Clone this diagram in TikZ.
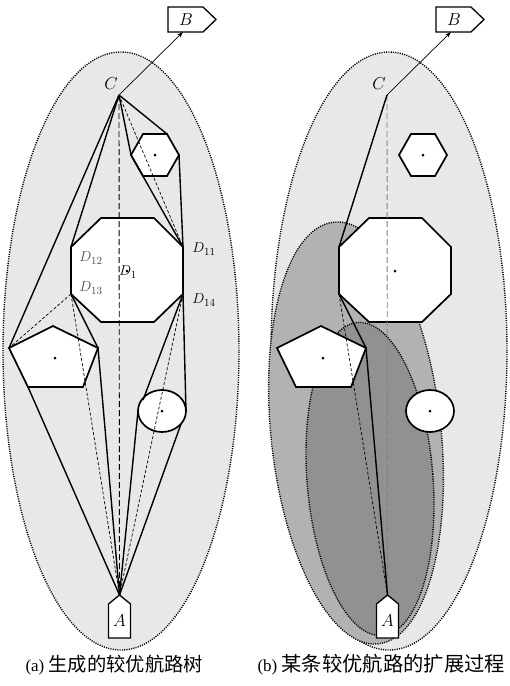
\documentclass[tikz,border=0pt]{standalone}
\usepackage{fontspec}
\setmainfont{Liberation Serif}
\newfontfamily\cjk{Noto Sans CJK SC}
\usetikzlibrary{arrows.meta}
\definecolor{bgfill}{RGB}{232,232,232}
\definecolor{midfill}{RGB}{178,178,178}
\definecolor{darkfill}{RGB}{145,145,145}
\newcommand{\defpts}[1]{%
  \coordinate (#1C) at (119,95);
  \coordinate (#1Bt) at (183,32);
  \coordinate (#1h0) at (155,155);
  \coordinate (#1hTL) at (143,134);
  \coordinate (#1hTR) at (167,134);
  \coordinate (#1hR) at (179,155);
  \coordinate (#1hBR) at (167,176);
  \coordinate (#1hBL) at (143,176);
  \coordinate (#1hL) at (131,155);
  \coordinate (#1o0) at (127,271);
  \coordinate (#1oTL) at (101,218);
  \coordinate (#1oTR) at (154,218);
  \coordinate (#1D11) at (183,247);
  \coordinate (#1D14) at (183,294);
  \coordinate (#1oBR) at (154,322);
  \coordinate (#1oBL) at (101,322);
  \coordinate (#1D13) at (71,294);
  \coordinate (#1D12) at (71,247);
  \coordinate (#1p0) at (55,358);
  \coordinate (#1pT) at (53,326);
  \coordinate (#1pTR) at (98,348);
  \coordinate (#1pBR) at (83,387);
  \coordinate (#1pBL) at (28,387);
  \coordinate (#1pL) at (9,348);
  \coordinate (#1e0) at (162,411);
  \coordinate (#1eUL) at (143,400);
  \coordinate (#1eR) at (186,411);
  \coordinate (#1eL) at (138,411);
  \coordinate (#1eLR) at (181,424);
  \coordinate (#1A) at (119.5,595);
}
\newcommand{\drawobst}[1]{%
  \draw[obst] (#1hTL)--(#1hTR)--(#1hR)--(#1hBR)--(#1hBL)--(#1hL)--cycle;
  \draw[obst] (#1oTL)--(#1oTR)--(#1D11)--(#1D14)--(#1oBR)--(#1oBL)--(#1D13)--(#1D12)--cycle;
  \draw[obst] (#1pT)--(#1pTR)--(#1pBR)--(#1pBL)--(#1pL)--cycle;
  \draw[obst] (#1e0) ellipse [x radius=24pt, y radius=21pt];
  \node[cdot] (#1hdot) at (#1h0) {};
  \node[cdot] (#1odot) at (#1o0) {};
  \node[cdot] (#1pdot) at (#1p0) {};
  \node[cdot] (#1edot) at (#1e0) {};
}
\newcommand{\drawends}[1]{%
  \draw[obst,line width=1.3pt] (108.5,638) -- (108.5,604) -- (119.5,595) -- (130.5,604) -- (130.5,638) -- cycle;
  \node[lbl] (#1Alab) at (119.5,621) {$A$};
  \draw[obst,line width=1.3pt] (168,7) -- (203,7) -- (216,19.5) -- (203,32) -- (168,32) -- cycle;
  \node[lbl] (#1Blab) at (186,19.5) {$B$};
  \node[lbl] (#1Clab) at (111,84) {$C$};
  \draw[-{Stealth[length=6pt,width=4pt]},line width=0.7pt] (#1C) -- (#1Bt);
}
\begin{document}
\begin{tikzpicture}[x=1pt,y=-1pt,
  dotb/.style={line width=1.4pt,dash pattern=on 1.1pt off 1.2pt},
  obst/.style={draw=black,line width=1.7pt,fill=white,line join=miter},
  route/.style={line width=1.4pt,line join=round},
  guide/.style={line width=0.7pt,dash pattern=on 3pt off 2pt},
  cdot/.style={fill=black,circle,inner sep=0pt,minimum size=3pt},
  lbl/.style={font=\fontsize{17}{19}\selectfont},
  dlbl/.style={font=\fontsize{15}{17}\selectfont}]
\useasboundingbox (0,0) rectangle (510,686);

% ---------- panel (a) ----------
\defpts{a}
\draw[dotb,fill=bgfill] (121,351) ellipse [x radius=118pt, y radius=299pt];
\drawobst{a}
% solid routes
\draw[route] (aC) -- (apL);
\draw[route] (aC) -- (aD12);
\draw[route] (aC) -- (ahL);
\draw[route] (aC) -- (ahTR);
\draw[route] (ahL) -- (aD11);
\draw[route] (ahR) -- (aD11);
\draw[route] (aD13) -- (apTR);
\draw[route] (apTR) -- (aA);
\draw[route] (apBL) -- (aA);
\draw[route] (aD14) -- (aeUL);
\draw[route] (aD14) -- (aeR);
\draw[route] (aeL) -- (aA);
\draw[route] (aeLR) -- (aA);
% dashed guides
\draw[guide,dash pattern=on 6pt off 3pt,line width=0.9pt] (aC) -- (aA);
\draw[guide] (aC) -- (aD11);
\draw[guide] (aD13) -- (apL);
\draw[guide] (aD13) -- (aA);
\draw[guide] (aD14) -- (aA);
\drawends{a}
\node[dlbl] (lD11) at (204,249) {$D_{11}$};
\node[dlbl] (lD14) at (204,300) {$D_{14}$};
\node[dlbl,text=black!70] (lD12) at (91,258) {$D_{12}$};
\node[dlbl,text=black!70] (lD13) at (91,288) {$D_{13}$};
\node[dlbl] (lD1) at (128,272) {$D_1$};
\node[anchor=west,font=\fontsize{17}{20}\selectfont] (capa) at (22,665) {(a) {\cjk\fontsize{19.3}{21}\selectfont 生成的较优航路树}};

% ---------- panel (b) ----------
\begin{scope}[xshift=268pt]
\defpts{b}
\draw[dotb,fill=bgfill] (121,351) ellipse [x radius=118pt, y radius=299pt];
\draw[dotb,fill=midfill,rotate around={6:(88,433)}] (88,433) ellipse [x radius=85pt, y radius=212pt];
\draw[dotb,fill=darkfill,rotate around={4.5:(102,479)}] (102,479) ellipse [x radius=63pt, y radius=157pt];
\drawobst{b}
\draw[guide,dash pattern=on 6pt off 3pt,line width=0.9pt,draw=black!50] (bC) -- (bA);
\draw[route] (bC) -- (bD12);
\draw[route] (bD13) -- (bpTR);
\draw[route] (bpTR) -- (bA);
\draw[guide] (bD13) -- (bA);
\drawends{b}
\end{scope}
\node[anchor=west,font=\fontsize{17}{20}\selectfont] (capb) at (254,665) {(b) {\cjk\fontsize{20.3}{22}\selectfont 某条较优航路的扩展过程}};
\end{tikzpicture}
\end{document}
